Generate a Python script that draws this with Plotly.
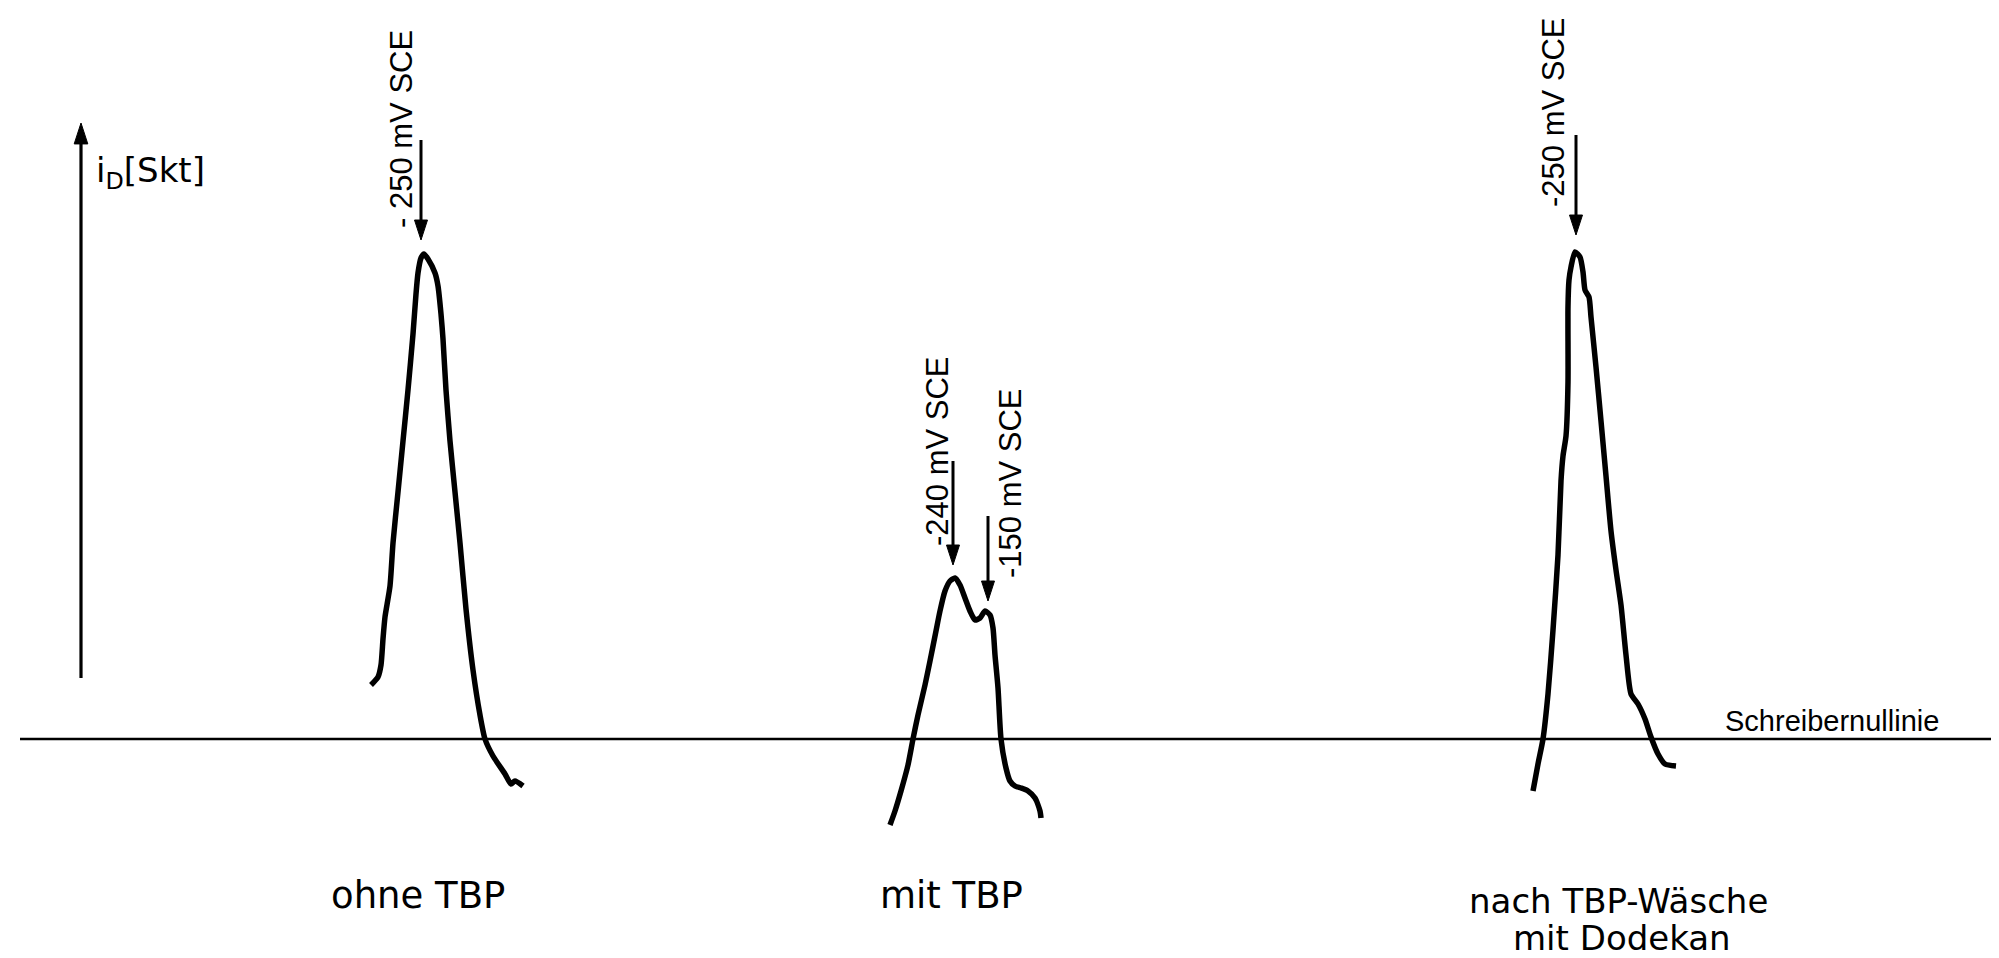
import plotly.graph_objects as go

# ---- data (x: recorder position, y: signal height above the recorder zero line) ----
ohne_x = [363, 370, 373, 375, 377, 382, 385, 390, 395, 400, 405, 408, 410, 413, 416, 420, 427,
          430, 433, 435, 438, 442, 447, 452, 458, 465, 472, 477, 485, 497, 503, 507, 515]
ohne_y = [54, 62, 74, 100, 122, 153, 196, 247, 298, 349, 405, 445, 466, 481, 485, 480, 466,
          453, 425, 400, 349, 298, 247, 196, 130, 69, 24, 0, -17, -35, -45, -42, -47]

mit_x = [882, 887, 893, 900, 905, 910, 917, 922, 928, 932, 937, 942, 947, 952, 957, 962, 967,
         972, 977, 982, 985, 987, 990, 993, 998, 1002, 1007, 1013, 1020, 1027, 1032, 1033]
mit_y = [-86, -72, -52, -26, 0, 24, 54, 78, 108, 128, 148, 158, 161, 154, 141, 128, 119,
         121, 128, 124, 111, 84, 51, 0, -29, -42, -47, -49, -52, -59, -72, -79]

nach_x = [1525, 1530, 1535, 1540, 1545, 1550, 1553, 1555, 1558, 1560, 1560, 1561, 1563, 1567,
          1572, 1575, 1577, 1581, 1583, 1588, 1593, 1598, 1603, 1608, 1613, 1618, 1623, 1630,
          1637, 1643, 1650, 1657, 1668]
nach_y = [-52, -25, 0, 45, 109, 184, 258, 283, 303, 357, 432, 459, 472, 487,
          482, 467, 449, 442, 422, 372, 318, 263, 208, 169, 134, 84, 45, 35,
          20, 2, -15, -25, -27]

baseline_x = [12, 1990]
baseline_y = [0, 0]

# peak markers
marker_labels = ["- 250 mV SCE", "-240 mV SCE", "-150 mV SCE", "-250 mV SCE"]
marker_x = [413, 945, 980, 1568]
marker_tip_y = [499, 174, 138, 504]
marker_tail_y = [599, 278, 223, 604]
label_x = [393, 929, 1002, 1545]
label_y = [610, 288, 256, 627]

cond_labels = ["ohne TBP", "mit TBP", "nach TBP-Wäsche", "mit Dodekan"]
cond_x = [410, 943, 1610, 1614]
cond_y = [-156, -156, -162, -199]
cond_size = [37, 37, 34, 34]

axis_x = 73
axis_tip_y = 616
axis_tail_y = 61

fig = go.Figure()
for xs, ys in [(ohne_x, ohne_y), (mit_x, mit_y), (nach_x, nach_y)]:
    fig.add_trace(go.Scatter(x=xs, y=ys, mode="lines",
                             line=dict(color="black", width=5.5, shape="spline", smoothing=0.6),
                             hoverinfo="skip", showlegend=False))
fig.add_trace(go.Scatter(x=baseline_x, y=baseline_y, mode="lines",
                         line=dict(color="black", width=2.5), hoverinfo="skip", showlegend=False))


def add_arrow(x, tail, tip, width, head):
    fig.add_trace(go.Scatter(
        x=[x, x], y=[tail, tip], mode="lines+markers",
        line=dict(color="#000000", width=width),
        marker=dict(symbol="arrow", size=[0, head], angleref="previous", color="#000000",
                    opacity=1, line=dict(width=1, color="#000000")),
        hoverinfo="skip", showlegend=False))


add_arrow(axis_x, axis_tail_y, axis_tip_y, 3.2, 22)
for mx, ty, tly in zip(marker_x, marker_tip_y, marker_tail_y):
    add_arrow(mx, tly, ty, 3, 21)

ann = []
ann.append(dict(x=86, y=567, xref="x", yref="y", xanchor="left", yanchor="middle",
                showarrow=False, text="i<sub>D</sub>[Skt]",
                font=dict(family="DejaVu Sans", size=34, color="black")))
for lab, lx, ly in zip(marker_labels, label_x, label_y):
    ann.append(dict(x=lx, y=ly, xref="x", yref="y", showarrow=False, text=lab, textangle=-90,
                    xanchor="center", yanchor="middle",
                    font=dict(family="Liberation Sans", size=31, color="black")))
for lab, cx, cy, cs in zip(cond_labels, cond_x, cond_y, cond_size):
    ann.append(dict(x=cx, y=cy, xref="x", yref="y", showarrow=False, text=lab,
                    xanchor="center", yanchor="middle",
                    font=dict(family="DejaVu Sans", size=cs, color="black")))
ann.append(dict(x=1824, y=18, xref="x", yref="y", showarrow=False, text="Schreibernullinie",
                xanchor="center", yanchor="middle",
                font=dict(family="Liberation Sans", size=29, color="black")))

fig.update_layout(
    width=1999, height=958,
    margin=dict(l=0, r=0, t=0, b=0),
    paper_bgcolor="white", plot_bgcolor="white",
    xaxis=dict(range=[0, 1999], visible=False, fixedrange=True),
    yaxis=dict(range=[-227, 731], visible=False, fixedrange=True),
    annotations=ann,
    showlegend=False,
)
fig.write_html("out.html")
